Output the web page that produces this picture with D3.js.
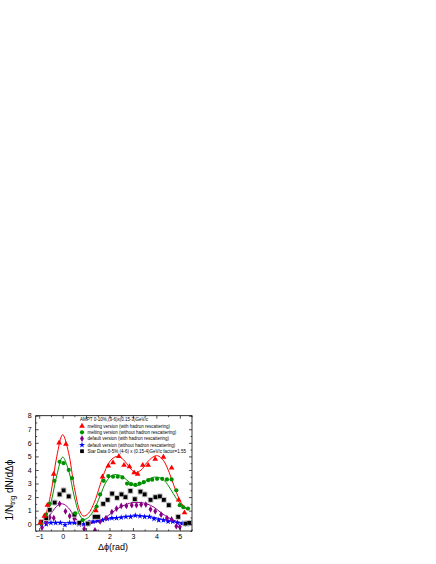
<!DOCTYPE html>
<html>
<head>
<meta charset="utf-8">
<script src="https://cdn.jsdelivr.net/npm/d3@7"></script>
<style>
  html, body { margin: 0; padding: 0; background: #fff; }
  svg { display: block; font-family: "Liberation Sans", Arial, sans-serif; }
</style>
</head>
<body>
<div id="chart"></div>
<script>
// AMPT melting, with hadron rescattering (red triangles)
const redX = [-0.95, -0.78, -0.65, -0.38, -0.15, 0.14, 1.42, 1.7, 1.95, 2.15, 2.4, 2.62, 2.85, 3.05, 3.2, 3.42, 3.65, 3.95, 4.3, 4.65, 4.95, 5.2];
const redY = [0.1, 0.6, 1.4, 3.7, 6.0, 5.9, 1.0, 3.5, 4.3, 4.55, 5.0, 4.35, 4.25, 3.8, 3.7, 4.35, 4.35, 4.8, 4.95, 4.15, 1.8, 0.85];
// AMPT melting, without hadron rescattering (green circles)
const greenX = [-0.92, -0.72, -0.55, -0.35, -0.13, 0.04, 0.26, 0.4, 0.54, 0.85, 1.45, 1.6, 1.75, 1.95, 2.15, 2.35, 2.55, 2.75, 2.92, 3.1, 3.28, 3.46, 3.65, 3.82, 4.03, 4.25, 4.45, 4.65, 4.85, 5.0, 5.15, 5.35];
const greenY = [0.05, 0.7, 1.5, 3.2, 4.6, 4.5, 4.0, 3.4, 0.8, 0.3, 1.3, 2.2, 3.2, 3.55, 3.5, 3.5, 3.45, 3.0, 2.95, 2.9, 3.0, 3.1, 3.25, 3.28, 3.35, 3.35, 3.3, 3.3, 2.5, 1.4, 1.25, 1.15];
// AMPT default, with hadron rescattering (purple diamonds)
const purpleX = [-0.88, -0.7, -0.55, -0.38, -0.13, 0.12, 0.3, 0.5, 0.75, 0.92, 1.15, 1.38, 1.6, 1.85, 2.1, 2.3, 2.5, 2.72, 2.95, 3.15, 3.35, 3.55, 3.75, 3.95, 4.2, 4.45, 4.65, 4.85, 5.0];
const purpleY = [-0.25, 0.2, 0.5, 0.45, 1.5, 0.95, 0.6, 0.4, 0.05, -0.35, 0.1, -0.45, 0.2, 0.45, 0.9, 1.15, 1.35, 1.35, 1.4, 1.4, 1.45, 1.45, 1.1, 0.95, 0.7, 0.45, 0.35, -0.15, -0.2];
// AMPT default, without hadron rescattering (blue stars)
const blueX = [-0.9, -0.7, -0.5, -0.3, -0.1, 0.1, 0.3, 0.5, 0.7, 0.9, 1.1, 1.3, 1.5, 1.7, 1.9, 2.1, 2.3, 2.5, 2.7, 2.9, 3.1, 3.3, 3.5, 3.7, 3.9, 4.1, 4.3, 4.5, 4.7, 4.9, 5.1, 5.3];
const blueY = [0.0, 0.0, 0.1, 0.1, 0.1, -0.05, 0.1, 0.1, 0.0, 0.0, 0.1, 0.2, 0.25, 0.3, 0.4, 0.45, 0.45, 0.5, 0.55, 0.55, 0.65, 0.6, 0.55, 0.55, 0.4, 0.3, 0.3, 0.2, 0.2, 0.1, 0.05, 0.0];
// STAR data x factor (black squares)
const starX = [-0.92, -0.7, -0.55, -0.34, -0.13, 0.04, 0.26, 0.5, 0.71, 1.07, 1.37, 1.51, 1.73, 1.92, 2.11, 2.32, 2.51, 2.68, 2.89, 3.08, 3.32, 3.5, 3.75, 3.96, 4.15, 4.32, 4.53, 4.93, 5.24, 5.4];
const starY = [0.15, 0.45, 1.05, 1.6, 2.2, 2.5, 2.05, 0.7, 0.1, 0.05, 0.55, 0.55, 1.5, 1.8, 2.25, 1.95, 2.2, 2.0, 2.45, 1.85, 2.4, 2.2, 1.8, 2.0, 2.05, 1.8, 1.4, 0.55, 0.05, 0.1];
const starErr = 0.22;

// fit curves
const redCurveX = [-0.95, -0.75, -0.5, -0.25, 0, 0.25, 0.5, 0.75, 0.9, 1.1, 1.35, 1.6, 1.85, 2.1, 2.35, 2.6, 2.85, 3.1, 3.35, 3.6, 3.85, 4.05, 4.3, 4.55, 4.8, 5.05, 5.3];
const redCurveY = [0.1, 0.6, 2.3, 5.0, 6.6, 5.3, 2.7, 0.9, 0.6, 0.8, 1.6, 2.9, 4.1, 4.8, 5.0, 4.75, 4.2, 3.8, 4.0, 4.55, 4.95, 5.05, 4.7, 3.8, 2.6, 1.6, 1.05];
const greenCurveX = [-0.95, -0.75, -0.5, -0.25, 0, 0.25, 0.5, 0.75, 0.9, 1.1, 1.35, 1.6, 1.85, 2.1, 2.35, 2.6, 2.85, 3.1, 3.35, 3.6, 3.85, 4.1, 4.35, 4.6, 4.85, 5.1, 5.3];
const greenCurveY = [0.1, 0.4, 1.6, 3.6, 4.95, 4.0, 2.0, 0.6, 0.35, 0.5, 1.1, 2.1, 3.1, 3.6, 3.65, 3.45, 3.1, 2.85, 2.95, 3.25, 3.45, 3.45, 3.2, 2.6, 1.9, 1.4, 1.15];
const purpleCurveX = [-0.95, -0.7, -0.45, -0.2, 0, 0.25, 0.5, 0.75, 0.95, 1.2, 1.5, 1.8, 2.1, 2.4, 2.7, 3.0, 3.3, 3.6, 3.9, 4.2, 4.5, 4.8, 5.1, 5.3];
const purpleCurveY = [0.0, 0.3, 0.9, 1.4, 1.5, 1.2, 0.55, 0.1, 0.0, 0.05, 0.2, 0.45, 0.85, 1.2, 1.45, 1.6, 1.6, 1.5, 1.25, 0.85, 0.5, 0.25, 0.1, 0.05];
const blueCurveX = [-0.95, -0.5, 0, 0.5, 0.9, 1.3, 1.7, 2.1, 2.5, 2.9, 3.2, 3.5, 3.9, 4.3, 4.7, 5.0, 5.3];
const blueCurveY = [0.1, 0.12, 0.12, 0.08, 0.05, 0.15, 0.3, 0.42, 0.52, 0.6, 0.62, 0.6, 0.5, 0.35, 0.2, 0.1, 0.05];

const xTicks = [-1, 0, 1, 2, 3, 4, 5];
const yTicks = [0, 1, 2, 3, 4, 5, 6, 7, 8];

const legendTitle = 'AMPT 0-10%,(3-6)x(0.15-3)GeV/c';
const legendLabels = [
  'melting version (with hadron rescattering)',
  'melting version (without hadron rescattering)',
  'default version (with hadron rescattering)',
  'default version (without hadron rescattering)',
  'Star Data 0-5% (4-6) x (0.15-4)GeV/c factor=1.55'
];

const colors = { red: '#ff0000', green: '#009000', purple: '#880088', blue: '#0000ff', black: '#000000' };

const W = 436, H = 564;
const box = { left: 35.7, right: 192, top: 415.7, bottom: 531 };

const svg = d3.select('#chart').append('svg')
  .attr('width', W)
  .attr('height', H);

const x = d3.scaleLinear().domain([-1.15, 5.52]).range([box.left, box.right]);
const y = d3.scaleLinear().domain([-0.5, 8]).range([box.bottom, box.top]);

const zip = (xs, ys) => xs.map((v, i) => ({ x: v, y: ys[i] }));

// plot clip
svg.append('clipPath').attr('id', 'plot-clip')
  .append('rect')
  .attr('x', box.left).attr('y', box.top)
  .attr('width', box.right - box.left).attr('height', box.bottom - box.top);

const plot = svg.append('g').attr('clip-path', 'url(#plot-clip)');

// curves
const line = d3.line()
  .x(d => x(d.x))
  .y(d => y(d.y))
  .curve(d3.curveCatmullRom.alpha(0.5));

[
  [blueCurveX, blueCurveY, colors.blue],
  [purpleCurveX, purpleCurveY, colors.purple],
  [greenCurveX, greenCurveY, colors.green],
  [redCurveX, redCurveY, colors.red]
].forEach(([xs, ys, c]) => {
  plot.append('path')
    .datum(zip(xs, ys))
    .attr('fill', 'none')
    .attr('stroke', c)
    .attr('stroke-width', 1)
    .attr('d', line);
});

// symbols
const sym = {
  triangle: d3.symbol().type(d3.symbolTriangle).size(14),
  circle: d3.symbol().type(d3.symbolCircle).size(14),
  diamond: d3.symbol().type(d3.symbolDiamond).size(13),
  star: d3.symbol().type(d3.symbolStar).size(12),
  square: d3.symbol().type(d3.symbolSquare).size(14)
};

function drawSeries(xs, ys, shape, color, err) {
  const pts = zip(xs, ys);
  const g = plot.append('g');
  if (err) {
    // grey error bars and halo for the data
    g.selectAll('line.err').data(pts).enter().append('line')
      .attr('x1', d => x(d.x)).attr('x2', d => x(d.x))
      .attr('y1', d => y(d.y - err)).attr('y2', d => y(d.y + err))
      .attr('stroke', '#999').attr('stroke-width', 0.8);
    g.selectAll('rect.halo').data(pts).enter().append('rect')
      .attr('x', d => x(d.x) - 2.8).attr('y', d => y(d.y) - 2.8)
      .attr('width', 5.6).attr('height', 5.6)
      .attr('fill', '#bbb');
  }
  g.selectAll('path.pt').data(pts).enter().append('path')
    .attr('transform', d => `translate(${x(d.x)},${y(d.y)})`)
    .attr('d', sym[shape]())
    .attr('fill', color);
}

drawSeries(blueX, blueY, 'star', colors.blue);
drawSeries(purpleX, purpleY, 'diamond', colors.purple);
drawSeries(starX, starY, 'square', colors.black, starErr);
drawSeries(greenX, greenY, 'circle', colors.green);
drawSeries(redX, redY, 'triangle', colors.red);

// frame
svg.append('rect')
  .attr('x', box.left).attr('y', box.top)
  .attr('width', box.right - box.left).attr('height', box.bottom - box.top)
  .attr('fill', 'none').attr('stroke', '#000').attr('stroke-width', 0.8);

// axes, ticks pointing inward, mirrored on top and right
const xMinor = d3.range(-1, 5.6, 0.5).filter(v => !xTicks.includes(v));
const yMinor = d3.range(-0.5, 8, 0.5).filter(v => !yTicks.includes(v));

svg.append('g').attr('transform', `translate(0,${box.bottom})`)
  .call(d3.axisBottom(x).tickValues(xTicks).tickSize(-3).tickPadding(3).tickFormat(d3.format('d')));
svg.append('g').attr('transform', `translate(0,${box.top})`)
  .call(d3.axisTop(x).tickValues(xTicks).tickSize(-3).tickFormat(''));
svg.append('g').attr('transform', `translate(${box.left},0)`)
  .call(d3.axisLeft(y).tickValues(yTicks).tickSize(-3).tickPadding(4).tickFormat(d3.format('d')));
svg.append('g').attr('transform', `translate(${box.right},0)`)
  .call(d3.axisRight(y).tickValues(yTicks).tickSize(-3).tickFormat(''));

svg.append('g').attr('transform', `translate(0,${box.bottom})`)
  .call(d3.axisBottom(x).tickValues(xMinor).tickSize(-1.5).tickFormat(''));
svg.append('g').attr('transform', `translate(0,${box.top})`)
  .call(d3.axisTop(x).tickValues(xMinor).tickSize(-1.5).tickFormat(''));
svg.append('g').attr('transform', `translate(${box.left},0)`)
  .call(d3.axisLeft(y).tickValues(yMinor).tickSize(-1.5).tickFormat(''));
svg.append('g').attr('transform', `translate(${box.right},0)`)
  .call(d3.axisRight(y).tickValues(yMinor).tickSize(-1.5).tickFormat(''));

svg.selectAll('.domain').remove();
svg.selectAll('.tick line').attr('stroke', '#000').attr('stroke-width', 0.7);
svg.selectAll('.tick text')
  .style('font-size', '7px')
  .style('font-family', '"Liberation Sans", Arial, sans-serif')
  .attr('fill', '#000');

// axis labels
svg.append('text')
  .attr('x', 113).attr('y', 550)
  .attr('text-anchor', 'middle')
  .style('font-size', '9px')
  .text('\u0394\u03d5(rad)');

const yl = svg.append('text')
  .attr('transform', 'translate(13,490) rotate(-90)')
  .attr('text-anchor', 'middle')
  .style('font-size', '10px');
yl.append('tspan').text('1/N');
yl.append('tspan').attr('dy', 2.2).style('font-size', '6.5px').text('trig');
yl.append('tspan').attr('dy', -2.2).text(' dN/d\u0394\u03d5');

// legend
const leg = svg.append('g');
leg.append('text')
  .attr('x', 80).attr('y', 421)
  .style('font-size', '4.5px')
  .text(legendTitle);

const legendShapes = [
  ['triangle', colors.red],
  ['circle', colors.green],
  ['diamond', colors.purple],
  ['star', colors.blue],
  ['square', colors.black]
];

legendLabels.forEach((label, i) => {
  const ly = 426 + i * 6.3;
  leg.append('path')
    .attr('transform', `translate(82,${ly})`)
    .attr('d', sym[legendShapes[i][0]]())
    .attr('fill', legendShapes[i][1]);
  leg.append('text')
    .attr('x', 87.5).attr('y', ly + 1.6)
    .style('font-size', '4.5px')
    .text(label);
});
</script>
</body>
</html>
